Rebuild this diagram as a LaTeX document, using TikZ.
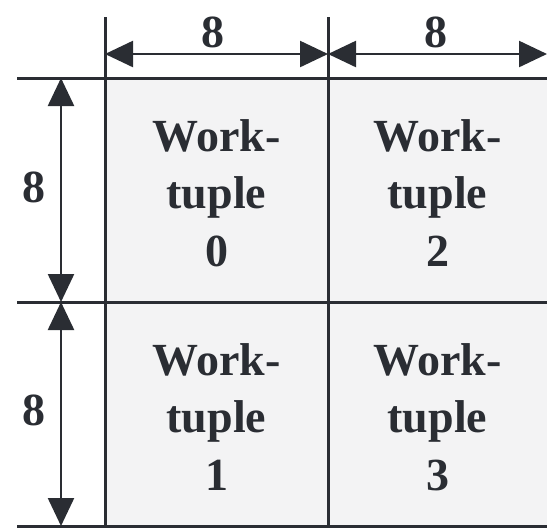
\documentclass[tikz,border=0pt]{standalone}
\usepackage{fontspec}
\setmainfont{Liberation Serif}
\usetikzlibrary{arrows.meta,positioning}

\definecolor{inkgray}{HTML}{2A2D33}
\definecolor{cellgray}{HTML}{F3F3F4}

\begin{document}
\begin{tikzpicture}[x=0.5pt,y=-0.5pt]
        \tikzstyle{gridline} = [draw=inkgray,line width=1.5pt]
        \tikzstyle{dim} = [draw=inkgray,line width=1.2pt,{Triangle[length=14pt,width=13pt]}-{Triangle[length=14pt,width=13pt]}]
        \tikzstyle{tuple} = [align=center,inner sep=0pt,text=inkgray,font=\fontsize{23}{28.75}\selectfont\bfseries]
        \tikzstyle{dimlabel} = [inner sep=0pt,text=inkgray,font=\fontsize{23}{28.75}\selectfont\bfseries]
        \useasboundingbox (0,0) rectangle (547,527);
        \fill[cellgray] (105,78) rectangle (547,526);
        % grid corners
        \coordinate (t0) at (105,17);
        \coordinate (t1) at (328,17);
        \coordinate (b0) at (105,527);
        \coordinate (b1) at (328,527);
        \coordinate (l0) at (17,78);
        \coordinate (l1) at (17,302);
        \coordinate (l2) at (17,526);
        \coordinate (r0) at (547,78);
        \coordinate (r1) at (547,302);
        \coordinate (r2) at (547,526);
        \draw[gridline] (t0) -- (b0);
        \draw[gridline] (t1) -- (b1);
        \draw[gridline] (l0) -- (r0);
        \draw[gridline] (l1) -- (r1);
        \draw[gridline] (l2) -- (r2);
        % dimension arrows
        \coordinate (h0) at (105,54);
        \coordinate (h1) at (328,54);
        \coordinate (h2) at (547,54);
        \coordinate (v0) at (61,78);
        \coordinate (v1) at (61,302);
        \coordinate (v2) at (61,526);
        \draw[dim] (h0) -- (h1);
        \draw[dim] (h1) -- (h2);
        \draw[dim] (v0) -- (v1);
        \draw[dim] (v1) -- (v2);
        \node[dimlabel,anchor=base] (w0) at (213,47) {8};
        \node[dimlabel,anchor=base] (w1) at (435.5,47) {8};
        \node[dimlabel] (d0) at (34.5,187.5) {8};
        \node[dimlabel] (d1) at (34.5,410.5) {8};
        % cells
        \node[tuple] (c0) at (216.5,193) {Work-\\tuple\\0};
        \node[tuple] (c2) at (437.5,193) {Work-\\tuple\\2};
        \node[tuple] (c1) at (216.5,417) {Work-\\tuple\\1};
        \node[tuple] (c3) at (437.5,417) {Work-\\tuple\\3};
\end{tikzpicture}
\end{document}
